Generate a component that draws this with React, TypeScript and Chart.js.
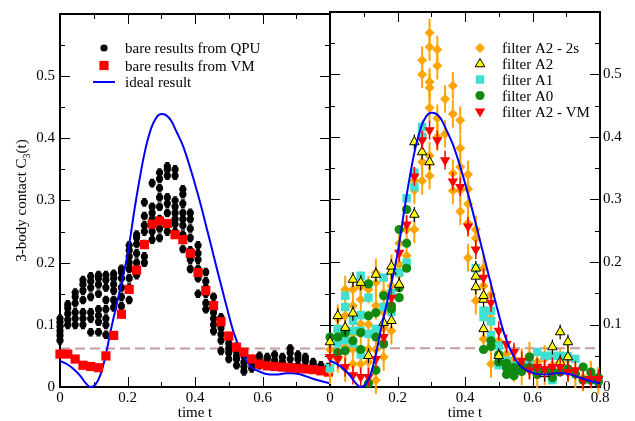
import React, { useEffect, useRef } from 'react';
import { Chart, registerables } from 'chart.js';
import { drawPoint } from 'chart.js/helpers';

Chart.register(...registerables);

const FONT = '"Liberation Serif", "Times New Roman", serif';

// time grid of the measured points
const T = [0, 0.023, 0.045, 0.068, 0.091, 0.114, 0.136, 0.159, 0.182, 0.205, 0.227, 0.25, 0.273, 0.295, 0.318, 0.341, 0.364, 0.386, 0.409, 0.432, 0.455, 0.477, 0.5, 0.523, 0.545, 0.568, 0.591, 0.614, 0.636, 0.659, 0.682, 0.705, 0.727, 0.75, 0.773, 0.795];

// ideal result (exact curve)
const IDEAL_T = [0, 0.02, 0.04, 0.06, 0.075, 0.09, 0.105, 0.12, 0.135, 0.15, 0.175, 0.2, 0.225, 0.25, 0.27, 0.285, 0.3, 0.315, 0.33, 0.345, 0.365, 0.39, 0.415, 0.44, 0.465, 0.49, 0.515, 0.54, 0.565, 0.59, 0.61, 0.64, 0.67, 0.69, 0.72, 0.745, 0.77, 0.8];
const IDEAL_C = [0.042, 0.037, 0.029, 0.018, 0.007, 0.0, 0.004, 0.02, 0.05, 0.09, 0.15, 0.213, 0.3, 0.375, 0.416, 0.433, 0.439, 0.437, 0.428, 0.411, 0.387, 0.345, 0.297, 0.244, 0.19, 0.137, 0.087, 0.053, 0.033, 0.025, 0.021, 0.02, 0.022, 0.022, 0.019, 0.014, 0.01, 0.006];

// bare results from QPU (several runs per time)
const QPU = [
  [0.075, 0.083, 0.09, 0.097, 0.104, 0.11],
  [0.1, 0.108, 0.118, 0.127, 0.133],
  [0.1, 0.11, 0.12, 0.135, 0.145, 0.152],
  [0.1, 0.11, 0.12, 0.14, 0.155, 0.165, 0.172],
  [0.088, 0.11, 0.12, 0.145, 0.16, 0.17, 0.178],
  [0.088, 0.105, 0.115, 0.125, 0.15, 0.165, 0.175, 0.18],
  [0.084, 0.1, 0.11, 0.125, 0.14, 0.16, 0.172, 0.18],
  [0.128, 0.14, 0.155, 0.165, 0.175, 0.182],
  [0.13, 0.145, 0.16, 0.175, 0.185, 0.19],
  [0.14, 0.16, 0.175, 0.19, 0.2, 0.21, 0.22, 0.228],
  [0.18, 0.19, 0.2, 0.215, 0.23, 0.24, 0.245],
  [0.2, 0.21, 0.23, 0.25, 0.26, 0.275, 0.297],
  [0.237, 0.25, 0.26, 0.27, 0.28, 0.29, 0.328],
  [0.24, 0.255, 0.27, 0.29, 0.305, 0.32, 0.335, 0.345],
  [0.25, 0.26, 0.28, 0.295, 0.305, 0.34, 0.35, 0.355],
  [0.25, 0.262, 0.27, 0.28, 0.29, 0.3, 0.34, 0.35],
  [0.222, 0.245, 0.26, 0.27, 0.28, 0.295, 0.31, 0.318],
  [0.19, 0.205, 0.22, 0.24, 0.255, 0.27, 0.28],
  [0.15, 0.175, 0.19, 0.205, 0.215, 0.228],
  [0.125, 0.135, 0.15, 0.16, 0.17, 0.185],
  [0.09, 0.1, 0.11, 0.12, 0.13, 0.145],
  [0.058, 0.075, 0.085, 0.095, 0.105, 0.112],
  [0.045, 0.055, 0.062, 0.07, 0.078],
  [0.035, 0.045, 0.05, 0.058, 0.065],
  [0.025, 0.033, 0.04, 0.05],
  [0.03, 0.038, 0.045],
  [0.035, 0.043, 0.05],
  [0.035, 0.045, 0.048],
  [0.033, 0.043, 0.052],
  [0.033, 0.04, 0.048],
  [0.035, 0.045, 0.055, 0.062],
  [0.035, 0.045, 0.052],
  [0.032, 0.042, 0.048],
  [0.03, 0.036, 0.04],
  [0.028, 0.035],
  [0.025, 0.032],
];
const QPU_ERR = 0.006;

// bare results from VM
const VM = [0.053, 0.053, 0.045, 0.035, 0.033, 0.031, 0.05, 0.083, 0.117, 0.157, 0.188, 0.229, 0.262, 0.267, 0.263, 0.245, 0.237, 0.215, 0.184, 0.155, 0.131, 0.105, 0.082, 0.064, 0.056, 0.045, 0.037, 0.034, 0.033, 0.032, 0.031, 0.03, 0.029, 0.028, 0.026, 0.024];
const VM_ERR_T = 0.009;

// filter A2 - 2s
const A2_2S = [
  [0.027, 0.06], [0.045, 0.09, 0.11], [0.03, 0.064, 0.114, 0.156], [0.037, 0.06, 0.085, 0.13, 0.156],
  [0.037, 0.06, 0.101, 0.14, 0.16], [0.04, 0.061, 0.1, 0.156], [0.011, 0.06, 0.13, 0.167, 0.183],
  [0.048, 0.095, 0.12, 0.15], [0.09, 0.162, 0.19], [0.18, 0.196, 0.23], [0.21, 0.252],
  [0.252, 0.315, 0.33], [0.33, 0.36, 0.403, 0.5, 0.523], [0.338, 0.37, 0.447, 0.479, 0.488, 0.544, 0.567],
  [0.4, 0.43, 0.514, 0.54], [0.405, 0.461], [0.314, 0.342, 0.437, 0.482], [0.281, 0.315, 0.352, 0.382, 0.427],
  [0.207, 0.262, 0.293, 0.317, 0.34], [0.138, 0.238, 0.252], [0.077, 0.162, 0.19], [0.037, 0.11, 0.148],
  [0.05, 0.074], [0.035, 0.053], [0.03, 0.045], [0.025, 0.04], [0.035, 0.05], [0.02, 0.04],
  [0.025, 0.045], [0.035], [0.04], [0.03, 0.045], [0.02], [0.015], [0.02], [0.01],
];
const A2_2S_ERR = 0.022;

// filter A2
const A2 = [
  [0.072], [0.114], [0.095], [0.118, 0.172], [0.167], [0.05], [0.18], [0.103], [0.106, 0.185, 0.193],
  [0.164], [], [0.276, 0.392], [0.376], [0.36], [], [], [], [], [], [0.16, 0.177, 0.19],
  [0.093, 0.14, 0.146], [], [0.05], [], [], [], [], [], [0.021], [0.064], [0.04, 0.088], [0.048, 0.072],
  [], [], [], [],
];
const A2_ERR = 0.012;

// filter A1
const A1 = [
  [0.03], [0.07, 0.093], [0.075, 0.128, 0.146], [0.07, 0.09, 0.106], [0.052, 0.09, 0.115, 0.178],
  [0.085, 0.143], [0.093], [0.128, 0.175], [0.12, 0.15], [0.183], [0.199, 0.302], [0.32, 0.343],
  [0.4, 0.416], [], [], [], [], [], [], [0.19], [0.112, 0.122], [0.083, 0.105, 0.122], [0.035, 0.066],
  [0.042], [0.034], [0.03], [0.04], [0.056], [0.05], [0.011, 0.05], [0.05], [0.049], [0.045], [], [], [],
];

// filter A0
const A0 = [
  [0.08], [0.055, 0.08], [0.058, 0.087], [0.074], [0.06, 0.087], [0.006, 0.114, 0.165], [0.027, 0.08, 0.119],
  [0.069, 0.146], [0.125, 0.13], [0.143, 0.159, 0.252], [0.19, 0.23, 0.284], [], [], [], [], [], [], [], [], [],
  [0.06], [0.065, 0.074], [0.04, 0.052], [0.031, 0.038, 0.02], [0.025, 0.031, 0.018], [0.025, 0.033], [0.031, 0.048],
  [0.02, 0.029], [0.024], [0.015, 0.026], [0.024], [0.029], [0.021], [0.011, 0.032], [0.011, 0.024], [0.008, 0.015],
];
const A0_ERR_T = 0.012;

// filter A2 - VM
const A2_VM = [0.048, 0.045, 0.032, 0.019, 0.016, 0.016, 0.045, 0.08, 0.143, 0.215, 0.26, 0.337, 0.395, 0.411, 0.395, 0.363, 0.329, 0.32, 0.257, 0.22, 0.175, 0.135, 0.09, 0.069, 0.056, 0.042, 0.027, 0.032, 0.029, 0.032, 0.032, 0.024, 0.027, 0.011, 0.013, 0.013];
const A2_VM_ERR = 0.015;

const THRESHOLD = 0.062;
const X_TICK_LABELS = ['0', '0.2', '0.4', '0.6', '0.8'];
const Y_TICK_LABELS = ['0', '0.1', '0.2', '0.3', '0.4', '0.5'];

const flat = (rows: number[][]) => rows.flatMap((vals, i) => vals.map((v) => ({ x: T[i], y: v })));
const series = (vals: number[]) => vals.map((v, i) => ({ x: T[i], y: v }));
const ideal = () => IDEAL_T.map((t, i) => ({ x: t, y: IDEAL_C[i] }));

function markers(label: string, data: any[], style: any, fill: string, extra: any = {}) {
  return {
    label,
    data,
    showLine: false,
    clip: false,
    pointStyle: style.pointStyle,
    pointRadius: style.radius,
    pointRotation: style.rotation || 0,
    pointBackgroundColor: fill,
    pointBorderColor: style.border || fill,
    pointBorderWidth: style.borderWidth || 0,
    backgroundColor: fill,
    borderColor: style.border || fill,
    ...extra,
  };
}

function idealDataset() {
  return {
    label: 'ideal result',
    data: ideal(),
    showLine: true,
    pointRadius: 0,
    borderColor: '#0000ff',
    backgroundColor: '#0000ff',
    borderWidth: 2,
    cubicInterpolationMode: 'monotone',
    clip: false,
  };
}

const errorBars = {
  id: 'errorBars',
  beforeDatasetDraw(chart: any, args: any) {
    const ds = chart.data.datasets[args.index];
    if (!ds.errY && !ds.errX) return;
    const { ctx } = chart;
    const x = chart.scales.x;
    const y = chart.scales.y;
    const cap = ds.errCap ?? 0;
    ctx.save();
    ctx.strokeStyle = ds.errColor;
    ctx.lineWidth = ds.errWidth ?? 1.2;
    for (const p of ds.data) {
      const px = x.getPixelForValue(p.x);
      const py = y.getPixelForValue(p.y);
      ctx.beginPath();
      if (ds.errY) {
        const y1 = y.getPixelForValue(p.y - ds.errY);
        const y2 = y.getPixelForValue(p.y + ds.errY);
        ctx.moveTo(px, y1); ctx.lineTo(px, y2);
        if (cap) {
          ctx.moveTo(px - cap, y1); ctx.lineTo(px + cap, y1);
          ctx.moveTo(px - cap, y2); ctx.lineTo(px + cap, y2);
        }
      }
      if (ds.errX) {
        const x1 = x.getPixelForValue(p.x - ds.errX);
        const x2 = x.getPixelForValue(p.x + ds.errX);
        ctx.moveTo(x1, py); ctx.lineTo(x2, py);
        if (cap) {
          ctx.moveTo(x1, py - cap); ctx.lineTo(x1, py + cap);
          ctx.moveTo(x2, py - cap); ctx.lineTo(x2, py + cap);
        }
      }
      ctx.stroke();
    }
    ctx.restore();
  },
};

const framePlugin = {
  id: 'frame',
  beforeDatasetsDraw(chart: any) {
    const { ctx, chartArea: a } = chart;
    const x = chart.scales.x;
    const y = chart.scales.y;
    ctx.save();
    // threshold
    ctx.strokeStyle = '#c49c9c';
    ctx.lineWidth = 2;
    ctx.setLineDash([10, 5]);
    const yd = y.getPixelForValue(THRESHOLD);
    ctx.beginPath(); ctx.moveTo(a.left, yd); ctx.lineTo(a.right, yd); ctx.stroke();
    ctx.setLineDash([]);
    // inward ticks
    ctx.strokeStyle = '#000';
    ctx.lineWidth = 1;
    ctx.beginPath();
    for (let k = 0; k <= 12; k++) {
      const py = Math.round(y.getPixelForValue(k * 0.05)) + 0.5;
      const len = k % 2 === 0 ? 10 : 5;
      ctx.moveTo(a.left, py); ctx.lineTo(a.left + len, py);
      ctx.moveTo(a.right, py); ctx.lineTo(a.right - len, py);
    }
    for (let k = 0; k <= 8; k++) {
      const px = Math.round(x.getPixelForValue(k * 0.1)) + 0.5;
      const len = k % 2 === 0 ? 10 : 5;
      ctx.moveTo(px, a.bottom); ctx.lineTo(px, a.bottom - len);
      ctx.moveTo(px, a.top); ctx.lineTo(px, a.top + len);
    }
    ctx.stroke();
    ctx.lineWidth = 2;
    ctx.strokeRect(a.left, a.top, a.right - a.left, a.bottom - a.top);
    ctx.restore();
  },
};

function drawLegend(chart: any, entries: { index: number; y: number }[], symX: number, textX: number) {
  const { ctx } = chart;
  ctx.save();
  for (const e of entries) {
    const ds = chart.data.datasets[e.index];
    if (ds.showLine) {
      ctx.strokeStyle = ds.borderColor;
      ctx.lineWidth = 2;
      ctx.beginPath(); ctx.moveTo(symX - 11, e.y); ctx.lineTo(symX + 11, e.y); ctx.stroke();
    } else {
      ctx.fillStyle = ds.pointBackgroundColor;
      ctx.strokeStyle = ds.pointBorderColor;
      ctx.lineWidth = ds.pointBorderWidth;
      drawPoint(ctx, { pointStyle: ds.pointStyle, radius: ds.pointRadius, rotation: ds.pointRotation, borderWidth: ds.pointBorderWidth } as any, symX, e.y);
    }
    ctx.fillStyle = '#000';
    ctx.font = `15px ${FONT}`;
    ctx.textBaseline = 'alphabetic';
    ctx.textAlign = 'left';
    ctx.fillText(ds.label, textX, e.y + 5);
  }
  ctx.restore();
}

function drawXTitle(chart: any) {
  const { ctx, chartArea: a } = chart;
  ctx.save();
  ctx.fillStyle = '#000';
  ctx.font = `15px ${FONT}`;
  ctx.textAlign = 'center';
  ctx.textBaseline = 'alphabetic';
  ctx.fillText('time t', (a.left + a.right) / 2, 417);
  ctx.restore();
}

function drawYTitle(chart: any) {
  const { ctx, chartArea: a } = chart;
  ctx.save();
  ctx.translate(25.5, (a.top + a.bottom) / 2);
  ctx.rotate(-Math.PI / 2);
  const main = '3-body contact C';
  const sub = '3';
  const tail = '(t)';
  ctx.font = `15px ${FONT}`;
  const w1 = ctx.measureText(main).width;
  const w3 = ctx.measureText(tail).width;
  ctx.font = `10px ${FONT}`;
  const w2 = ctx.measureText(sub).width;
  let x0 = -(w1 + w2 + w3) / 2;
  ctx.fillStyle = '#000';
  ctx.textBaseline = 'alphabetic';
  ctx.textAlign = 'left';
  ctx.font = `15px ${FONT}`;
  ctx.fillText(main, x0, 0);
  x0 += w1;
  ctx.font = `10px ${FONT}`;
  ctx.fillText(sub, x0, 4);
  x0 += w2;
  ctx.font = `15px ${FONT}`;
  ctx.fillText(tail, x0, 0);
  ctx.restore();
}

function makeScales(side: 'left' | 'right') {
  const tickFont = { family: FONT, size: 15 };
  return {
    x: {
      type: 'linear',
      min: 0,
      max: 0.8,
      grid: { display: false, drawTicks: false },
      border: { display: false },
      ticks: {
        stepSize: 0.2,
        autoSkip: false,
        maxRotation: 0,
        padding: 2,
        color: '#000',
        font: tickFont,
        callback: (_v: any, i: number) => (side === 'left' && i === 4 ? '' : X_TICK_LABELS[i] ?? ''),
      },
      afterFit: (s: any) => { s.height = 34; },
    },
    y: {
      type: 'linear',
      position: side,
      min: 0,
      max: 0.6,
      grid: { display: false, drawTicks: false },
      border: { display: false },
      ticks: {
        stepSize: 0.1,
        autoSkip: false,
        padding: side === 'left' ? 5 : 3,
        color: '#000',
        font: tickFont,
        callback: (_v: any, i: number) => Y_TICK_LABELS[i] ?? '',
      },
      afterFit: (s: any) => { s.width = side === 'left' ? 60 : 35; },
    },
  };
}

export default function App() {
  const leftRef = useRef<HTMLCanvasElement>(null);
  const rightRef = useRef<HTMLCanvasElement>(null);

  useEffect(() => {
    const left = new Chart(leftRef.current as HTMLCanvasElement, {
      type: 'scatter',
      data: {
        datasets: [
          markers('bare results from VM', series(VM), { pointStyle: 'rect', radius: 6.5 }, '#ff0000', { errX: VM_ERR_T, errColor: '#ff0000', errCap: 3, errWidth: 1.5 }),
          idealDataset(),
          markers('bare results from QPU', flat(QPU), { pointStyle: 'circle', radius: 3.6 }, '#000000', { errY: QPU_ERR, errColor: '#000000', errCap: 2 }),
        ] as any,
      },
      options: {
        responsive: false,
        animation: false,
        events: [],
        layout: { padding: { top: 9, left: 0, right: 305, bottom: 0 } },
        plugins: { legend: { display: false }, tooltip: { enabled: false } },
        scales: makeScales('left') as any,
      },
      plugins: [
        framePlugin,
        errorBars,
        {
          id: 'leftDecor',
          afterDraw(chart: any) {
            drawLegend(chart, [
              { index: 2, y: 48 },
              { index: 0, y: 65.5 },
              { index: 1, y: 82 },
            ], 104, 125);
            drawXTitle(chart);
            drawYTitle(chart);
          },
        },
      ],
    });

    const right = new Chart(rightRef.current as HTMLCanvasElement, {
      type: 'scatter',
      data: {
        datasets: [
          idealDataset(),
          markers('filter A2 - VM', series(A2_VM), { pointStyle: 'triangle', radius: 6, rotation: 180 }, '#ff0000', { errY: A2_VM_ERR, errColor: '#ff0000', errWidth: 1.5 }),
          markers('filter A2', flat(A2), { pointStyle: 'triangle', radius: 5.5, border: '#000000', borderWidth: 1 }, '#ffff00', { errY: A2_ERR, errColor: '#000000', errWidth: 1.2 }),
          markers('filter A0', flat(A0), { pointStyle: 'circle', radius: 4.6 }, '#108a10', { errX: A0_ERR_T, errColor: '#108a10', errWidth: 1.5 }),
          markers('filter A1', flat(A1), { pointStyle: 'rect', radius: 6 }, '#40e0d0'),
          markers('filter A2 - 2s', flat(A2_2S), { pointStyle: 'rectRot', radius: 5 }, '#ffa500', { errY: A2_2S_ERR, errColor: '#ffa500', errWidth: 2 }),
        ] as any,
      },
      options: {
        responsive: false,
        animation: false,
        events: [],
        layout: { padding: { top: 9, left: 330, right: 0, bottom: 0 } },
        plugins: { legend: { display: false }, tooltip: { enabled: false } },
        scales: makeScales('right') as any,
      },
      plugins: [
        framePlugin,
        errorBars,
        {
          id: 'rightDecor',
          afterDraw(chart: any) {
            drawLegend(chart, [
              { index: 5, y: 48 },
              { index: 2, y: 64 },
              { index: 4, y: 79.5 },
              { index: 3, y: 95.5 },
              { index: 1, y: 111.5 },
            ], 480, 502);
            drawXTitle(chart);
          },
        },
      ],
    });

    return () => {
      left.destroy();
      right.destroy();
    };
  }, []);

  return (
    <div style={{ position: 'absolute', left: 0, top: 0, width: 635, height: 421, background: '#ffffff' }}>
      <canvas ref={leftRef} width={635} height={421} style={{ position: 'absolute', left: 0, top: 0 }} />
      <canvas ref={rightRef} width={635} height={421} style={{ position: 'absolute', left: 0, top: 0 }} />
    </div>
  );
}
